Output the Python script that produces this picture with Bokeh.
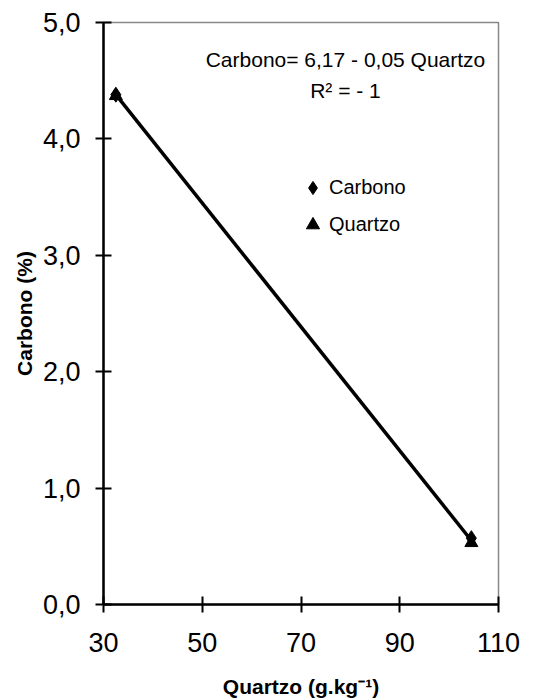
from bokeh.plotting import figure
from bokeh.models import (Range1d, FixedTicker, CustomJSTickFormatter, Legend, LegendItem, Label, Title)
from bokeh.embed import file_html
from bokeh.resources import INLINE

# data
quartzo_x = [32.5, 104.5]
carbono_y = [4.38, 0.57]
quartzo_y = [4.37, 0.53]
fit_x = [32.5, 104.5]
fit_y = [4.38, 0.55]
x_ticks = [30, 50, 70, 90, 110]
y_ticks = [0, 1, 2, 3, 4, 5]
equation = "Carbono= 6,17 - 0,05 Quartzo"
r2_text = "R² = - 1"
x_title = "Quartzo (g.kg⁻¹)"
y_title = "Carbono (%)"

FONT = "Liberation Sans"

p = figure(width=548, height=700, output_backend="svg", toolbar_location=None,
           x_range=Range1d(30, 110), y_range=Range1d(0, 5),
           min_border_left=103, min_border_right=50, min_border_top=22, min_border_bottom=94)
p.background_fill_color = "white"
p.border_fill_color = "white"
p.outline_line_color = "#888888"
p.outline_line_width = 1.5
p.grid.visible = False

for ax in (p.xaxis[0], p.yaxis[0]):
    ax.axis_line_color = "black"
    ax.axis_line_width = 2.5
    ax.major_tick_line_color = "black"
    ax.major_tick_line_width = 2
    ax.major_tick_in = 8
    ax.major_tick_out = 8
    ax.minor_tick_line_color = None
    ax.major_label_text_font = FONT
    ax.major_label_text_font_size = "27px"
    ax.major_label_text_color = "black"
    ax.axis_label_text_font = FONT
    ax.axis_label_text_font_style = "bold"
    ax.axis_label_text_font_size = "21px"
    ax.axis_label_text_color = "black"

p.xaxis.ticker = FixedTicker(ticks=x_ticks)
p.yaxis.ticker = FixedTicker(ticks=y_ticks)
p.yaxis.formatter = CustomJSTickFormatter(code="return tick.toFixed(1).replace('.', ',');")
p.xaxis.major_label_standoff = 20
p.yaxis.major_label_standoff = 15
p.xaxis.axis_label = x_title
p.xaxis.axis_label_standoff = 20

line = p.line(fit_x, fit_y, line_color="black", line_width=3.5)
r_c = p.scatter(quartzo_x, carbono_y, marker="diamond", size=15, color="black")
r_q = p.scatter(quartzo_x, quartzo_y, marker="triangle", size=13, color="black")

legend = Legend(items=[LegendItem(label="Carbono", renderers=[r_c]),
                       LegendItem(label="Quartzo", renderers=[r_q])],
                location=(193, 363), orientation="vertical")
legend.label_text_font = FONT
legend.label_text_font_size = "20px"
legend.label_text_color = "black"
legend.glyph_width = 33
legend.glyph_height = 33
legend.label_height = 20
legend.label_standoff = 0
legend.spacing = 4
legend.padding = 0
legend.margin = 0
legend.border_line_color = None
legend.background_fill_alpha = 0
p.add_layout(legend, "center")

eq = Label(x=242, y=545, x_units="screen", y_units="screen", text=equation,
           text_align="center", text_baseline="middle", text_font=FONT,
           text_font_size="21px", text_color="black")
r2 = Label(x=242, y=514, x_units="screen", y_units="screen", text=r2_text,
           text_align="center", text_baseline="middle", text_font=FONT,
           text_font_size="21px", text_color="black")
p.add_layout(eq)
p.add_layout(r2)

ytitle = Title(text=y_title, align="center", text_font=FONT, text_font_style="bold",
               text_font_size="21px", text_color="black", standoff=8)
p.add_layout(ytitle, "left")

open("out.html", "w").write(file_html(p, INLINE))
